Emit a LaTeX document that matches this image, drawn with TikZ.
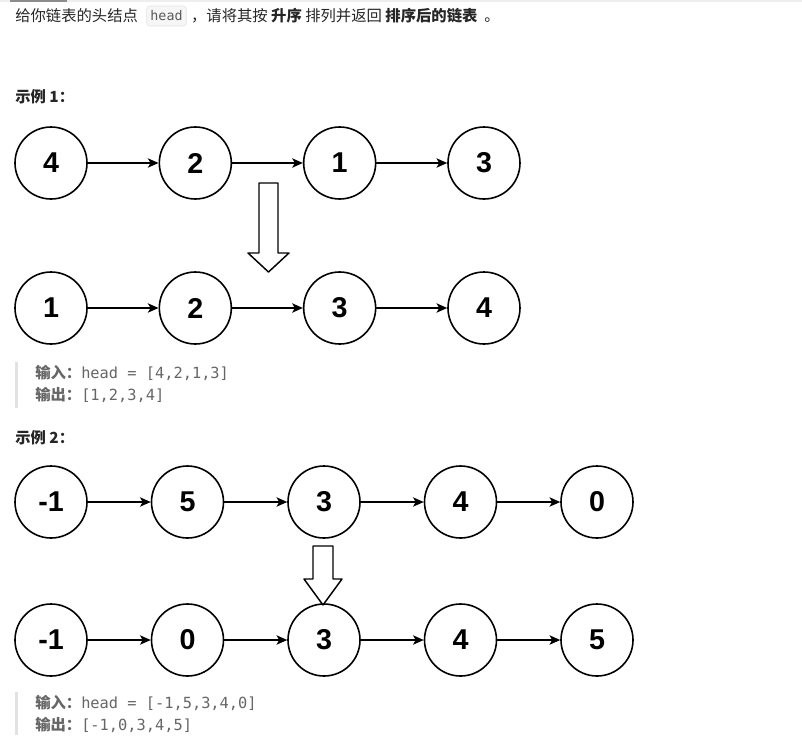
\documentclass[tikz,border=0pt]{standalone}
\usepackage{fontspec}
\setmainfont{Liberation Sans}
\newfontfamily\cjk{Noto Sans CJK SC}
\newfontfamily\codefont{DejaVu Sans Mono}
\usetikzlibrary{arrows.meta,positioning}
\definecolor{textdark}{RGB}{38,38,38}
\definecolor{quotegray}{RGB}{102,102,102}
\definecolor{quotebar}{RGB}{226,226,226}
\definecolor{codefill}{RGB}{246,246,246}
\definecolor{codeline}{RGB}{228,228,228}
\definecolor{rulegray}{RGB}{238,238,238}

\tikzset{
  listnode/.style={circle,draw,line width=1.2pt,minimum size=54pt,inner sep=0pt,
    font=\fontsize{21.5}{22}\selectfont\bfseries},
  link/.style={line width=1.1pt,-{Stealth[length=8pt,width=7pt,inset=2pt]}},
  bigarrow/.style={line width=1.1pt,fill=white},
  plaintext/.style={inner sep=0pt,text=textdark,font=\cjk\fontsize{11.5}{14}\selectfont},
  quotetext/.style={inner sep=0pt,text=quotegray,font=\codefont\fontsize{11.5}{14}\selectfont}
}

\begin{document}
\begin{tikzpicture}[x=.75pt,y=-.75pt,>=Stealth,line cap=round,line join=round]
 \useasboundingbox (0,0) rectangle (802,746);
 \fill[white] (0,0) rectangle (802,746);
 % top rule
 \fill[rulegray] (0,0) rectangle (802,2);
 \fill[black!45] (10,0) rectangle (67,2);

 % problem statement
 \node[plaintext,anchor=west] (intro) at (15,16) {给你链表的头结点};
 \node[right=6pt of intro,draw=codeline,fill=codefill,rounded corners=2.5pt,
  inner xsep=3pt,minimum height=15pt,text=black!65,
  font=\codefont\fontsize{10}{12}\selectfont] (headcode) {head};
 \node[plaintext,right=3pt of headcode] (rest)
  {，请将其按 \textbf{升序} 排列并返回 \textbf{排序后的链表} \ 。};

 % example 1
 \node[plaintext,anchor=west,font=\cjk\bfseries\fontsize{11.5}{14}\selectfont]
  (title1) at (15,97) {示例 1：};
 \foreach \v [count=\i] in {4,2,1,3}
  \node[listnode] (a\i) at ({51+144.33*(\i-1)},163) {\v};
 \foreach \v [count=\i] in {1,2,3,4}
  \node[listnode] (b\i) at ({51+144.33*(\i-1)},308) {\v};
 \foreach \i/\j in {1/2,2/3,3/4} {
  \draw[link] (a\i) -- (a\j);
  \draw[link] (b\i) -- (b\j);
 }
 \draw[bigarrow] (259,183) -- (278,183) -- (278,253) -- (289,253)
  -- (268.5,272) -- (248,253) -- (259,253) -- cycle;
 \fill[quotebar] (15,362) rectangle (18,408);
 \node[quotetext,anchor=west] (in1) at (35,373)
  {{\cjk\bfseries 输入：}head = [4,2,1,3]};
 \node[quotetext,anchor=west] (out1) at (35,395)
  {{\cjk\bfseries 输出：}[1,2,3,4]};

 % example 2
 \node[plaintext,anchor=west,font=\cjk\bfseries\fontsize{11.5}{14}\selectfont]
  (title2) at (15,438) {示例 2：};
 \foreach \v [count=\i] in {-1,5,3,4,0}
  \node[listnode] (c\i) at ({51+136.5*(\i-1)},502) {\v};
 \foreach \v [count=\i] in {-1,0,3,4,5}
  \node[listnode] (d\i) at ({51+136.5*(\i-1)},640) {\v};
 \foreach \i/\j in {1/2,2/3,3/4,4/5} {
  \draw[link] (c\i) -- (c\j);
  \draw[link] (d\i) -- (d\j);
 }
 \draw[bigarrow] (313,546) -- (333,546) -- (333,579) -- (342,579)
  -- (323,605) -- (304,579) -- (313,579) -- cycle;
 \fill[quotebar] (15,692) rectangle (18,735);
 \node[quotetext,anchor=west] (in2) at (35,703)
  {{\cjk\bfseries 输入：}head = [-1,5,3,4,0]};
 \node[quotetext,anchor=west] (out2) at (35,725)
  {{\cjk\bfseries 输出：}[-1,0,3,4,5]};
\end{tikzpicture}
\end{document}
